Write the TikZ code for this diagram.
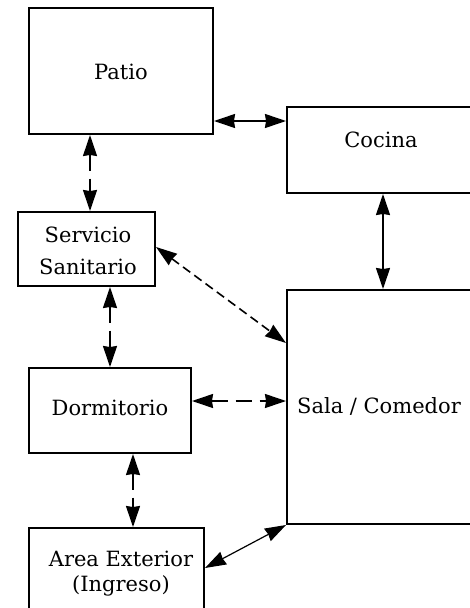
\documentclass[tikz,border=0pt]{standalone}
\usepackage{fontspec}
\setmainfont{DejaVu Serif}
\usetikzlibrary{arrows.meta}
\begin{document}
\begin{tikzpicture}[x=1pt,y=-1pt,
  box/.style={draw,line width=2pt,inner sep=0pt,anchor=north west},
  lbl/.style={font=\fontsize{21}{25}\selectfont,align=center,inner sep=0pt},
  con/.style={line width=1.6pt,{Stealth[length=21pt,width=14pt,inset=1pt]}-{Stealth[length=21pt,width=14pt,inset=1pt]}},
  longdash/.style={dash pattern=on 16pt off 8pt},
  shortdash/.style={dash pattern=on 9pt off 5pt}]
\clip (0,0) rectangle (470,608);
\fill[white] (0,0) rectangle (470,608);
% boxes
\node[box,minimum width=184pt,minimum height=126pt] (patio) at (28,7) {};
\node[box,minimum width=200pt,minimum height=86pt] (cocina) at (286,106) {};
\node[box,minimum width=200pt,minimum height=234pt] (sala) at (286,289) {};
\node[box,minimum width=137pt,minimum height=74pt] (serv) at (17,211) {};
\node[box,minimum width=162pt,minimum height=85pt] (dorm) at (28,367) {};
\node[box,minimum width=175pt,minimum height=100pt] (area) at (28,527) {};
% labels
\node[lbl] (tpatio) at (121,72) {Patio};
\node[lbl] (tcocina) at (381,140) {Cocina};
\node[lbl] (tsala) at (379,406) {Sala / Comedor};
\node[lbl,font=\fontsize{21}{32}\selectfont] (tserv) at (88,251) {Servicio\\Sanitario};
\node[lbl] (tdorm) at (110,408) {Dormitorio};
\node[lbl,font=\fontsize{21}{25}\selectfont] (tarea) at (121,574) {Area Exterior\\(Ingreso)};
% connectors
\draw[con] (patio.east |- 0,121) -- (cocina.west |- 0,121);
\draw[con,longdash] (patio.south -| 90,0) -- (serv.north -| 90,0);
\draw[con] (cocina.south -| 383,0) -- (sala.north -| 383,0);
\draw[con,shortdash] (serv.east |- 0,247) -- (sala.west |- 0,343);
\draw[con,longdash] (serv.south -| 110,0) -- (dorm.north -| 110,0);
\draw[con,longdash] (dorm.east |- 0,401) -- (sala.west |- 0,401);
\draw[con,longdash] (dorm.south -| 133,0) -- (area.north -| 133,0);
\draw[con,line width=1.2pt] (area.east |- 0,568) -- (sala.south west);
\end{tikzpicture}
\end{document}
